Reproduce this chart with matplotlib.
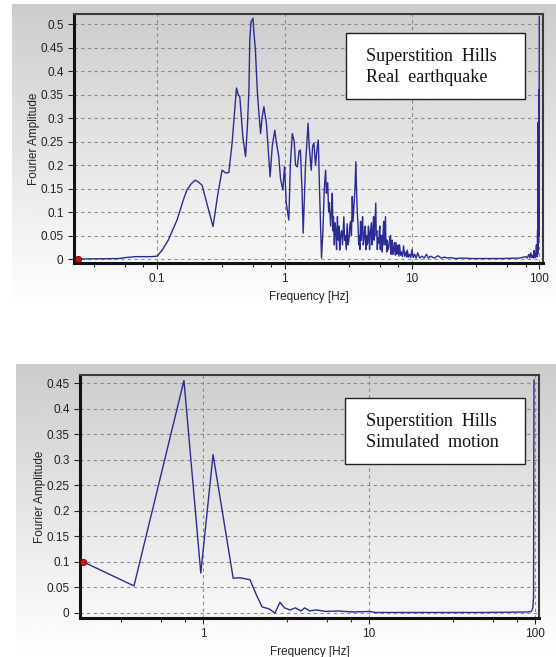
import numpy as np
import matplotlib
matplotlib.use("Agg")
import matplotlib.pyplot as plt
from matplotlib.ticker import FixedLocator, NullFormatter
from matplotlib.patches import Rectangle

# ---------------- data (frequency Hz, Fourier amplitude) ----------------
real_low_band = [(0.024, 0.0), (0.05, 0.001), (0.056, 0.003), (0.062, 0.004), (0.068, 0.005),
                 (0.09, 0.005), (0.1, 0.006), (0.11, 0.02), (0.122, 0.04), (0.143, 0.083),
                 (0.16, 0.125), (0.171, 0.147), (0.185, 0.16), (0.199, 0.168), (0.212, 0.163),
                 (0.225, 0.157), (0.25, 0.11), (0.274, 0.069), (0.30, 0.14), (0.323, 0.189),
                 (0.345, 0.183), (0.365, 0.184), (0.387, 0.246)]
real_peak_band = [(0.41, 0.33), (0.419, 0.364), (0.432, 0.35), (0.445, 0.345), (0.47, 0.26),
                  (0.494, 0.218), (0.51, 0.28), (0.525, 0.36), (0.533, 0.466), (0.545, 0.505),
                  (0.565, 0.512), (0.575, 0.48), (0.59, 0.445), (0.61, 0.36), (0.626, 0.317),
                  (0.648, 0.267), (0.665, 0.30), (0.688, 0.324), (0.70, 0.31), (0.72, 0.289),
                  (0.745, 0.23), (0.77, 0.175), (0.80, 0.24), (0.838, 0.274), (0.86, 0.25),
                  (0.9, 0.218), (0.93, 0.17), (0.97, 0.147), (0.985, 0.175), (1.0, 0.196),
                  (1.03, 0.12), (1.08, 0.083), (1.11, 0.2), (1.15, 0.267), (1.19, 0.25),
                  (1.22, 0.2), (1.26, 0.196), (1.30, 0.23), (1.33, 0.232), (1.37, 0.15),
                  (1.40, 0.055), (1.46, 0.2), (1.53, 0.289), (1.56, 0.24), (1.62, 0.189),
                  (1.66, 0.24), (1.70, 0.247), (1.75, 0.2), (1.80, 0.235), (1.84, 0.253),
                  (1.88, 0.15), (1.95, 0.002)]
real_dense_band = [(2.0, 0.06), (2.05, 0.15), (2.1, 0.189), (2.13, 0.14), (2.15, 0.16), (2.18, 0.162),
                   (2.22, 0.1), (2.25, 0.12), (2.3, 0.07), (2.34, 0.104), (2.37, 0.14), (2.4, 0.06),
                   (2.42, 0.09), (2.46, 0.03), (2.49, 0.077), (2.53, 0.062), (2.56, 0.02), (2.6, 0.09),
                   (2.63, 0.05), (2.65, 0.04), (2.68, 0.07), (2.71, 0.019), (2.75, 0.05), (2.8, 0.06),
                   (2.85, 0.03), (2.92, 0.09), (2.96, 0.04), (3.0, 0.05), (3.05, 0.02), (3.1, 0.075),
                   (3.15, 0.03), (3.2, 0.04), (3.25, 0.07), (3.3, 0.08), (3.35, 0.05), (3.4, 0.133),
                   (3.45, 0.08), (3.5, 0.11), (3.57, 0.15), (3.63, 0.207), (3.67, 0.15), (3.7, 0.12),
                   (3.74, 0.09), (3.78, 0.069), (3.82, 0.03), (3.85, 0.05), (3.9, 0.02), (3.95, 0.08),
                   (4.0, 0.04), (4.05, 0.07), (4.1, 0.09), (4.15, 0.03), (4.2, 0.04), (4.25, 0.06),
                   (4.3, 0.07), (4.35, 0.02), (4.4, 0.05), (4.45, 0.03), (4.5, 0.034), (4.55, 0.07),
                   (4.6, 0.06), (4.65, 0.02), (4.7, 0.05), (4.8, 0.077), (4.85, 0.03), (4.9, 0.04),
                   (4.95, 0.07), (5.0, 0.09), (5.05, 0.04), (5.1, 0.06), (5.2, 0.119), (5.25, 0.05),
                   (5.3, 0.06), (5.35, 0.02), (5.4, 0.045), (5.5, 0.034), (5.55, 0.06), (5.6, 0.07),
                   (5.65, 0.02), (5.7, 0.05), (5.8, 0.05), (5.85, 0.015), (5.9, 0.04), (6.0, 0.08),
                   (6.05, 0.03), (6.1, 0.05), (6.2, 0.09), (6.25, 0.03), (6.3, 0.04), (6.35, 0.015),
                   (6.4, 0.04), (6.5, 0.02), (6.6, 0.026), (6.7, 0.045), (6.8, 0.05), (6.85, 0.01),
                   (6.9, 0.03), (7.0, 0.04), (7.1, 0.01), (7.2, 0.02), (7.3, 0.035), (7.4, 0.008),
                   (7.5, 0.035), (7.6, 0.01), (7.7, 0.019), (7.8, 0.03), (7.9, 0.006), (8.0, 0.03),
                   (8.15, 0.008), (8.3, 0.015), (8.45, 0.005), (8.6, 0.028), (8.8, 0.006), (9.0, 0.015),
                   (9.1, 0.004), (9.2, 0.019), (9.4, 0.004), (9.6, 0.01), (9.8, 0.003), (10, 0.02)]
real_high_band = [(10.25, 0.003), (10.5, 0.01), (10.8, 0.002), (11.1, 0.013), (11.5, 0.002),
                  (12, 0.006), (12.5, 0.002), (13, 0.01), (13.5, 0.002), (14, 0.006), (15, 0.002),
                  (16, 0.007), (17, 0.002), (18, 0.004), (19, 0.002), (20, 0.003), (22, 0.001),
                  (25, 0.002), (30, 0.001), (50, 0.001), (70, 0.002), (75, 0.004), (78, 0.005),
                  (80, 0.002), (83, 0.01), (84, 0.002), (86, 0.013), (87, 0.003), (89, 0.008),
                  (90, 0.002), (91, 0.018), (92, 0.003), (93, 0.012), (94, 0.004), (95, 0.03),
                  (95.5, 0.005), (96, 0.02), (96.5, 0.005), (97, 0.06), (97.3, 0.01), (97.5, 0.29),
                  (97.8, 0.02), (98, 0.12), (98.3, 0.03), (98.5, 0.22), (98.8, 0.04), (99, 0.15),
                  (99.3, 0.05), (99.5, 0.36), (99.7, 0.1), (100, 0.515)]

sim_freq = [0.19, 0.384, 0.768, 0.97, 1.15, 1.52, 1.67, 1.92, 2.1, 2.27, 2.5, 2.71, 2.91, 3.1,
            3.34, 3.6, 3.9, 4.1, 4.4, 4.8, 5.5, 6.5, 8, 10, 11, 20, 50, 90, 95, 97, 98, 98.6]
sim_amp = [0.1, 0.053, 0.455, 0.078, 0.31, 0.068, 0.069, 0.065, 0.035, 0.012, 0.008, 0.0, 0.021, 0.01,
           0.006, 0.01, 0.004, 0.01, 0.004, 0.006, 0.003, 0.004, 0.002, 0.003, 0.001, 0.001, 0.001, 0.002,
           0.003, 0.01, 0.03, 0.456]

top_yticks = [0, 0.05, 0.1, 0.15, 0.2, 0.25, 0.3, 0.35, 0.4, 0.45, 0.5]
top_ylabels = ["0", "0.05", "0.1", "0.15", "0.2", "0.25", "0.3", "0.35", "0.4", "0.45", "0.5"]
top_xticks = [0.1, 1, 10, 100]
top_xlabels = ["0.1", "1", "10", "100"]
bot_yticks = [0, 0.05, 0.1, 0.15, 0.2, 0.25, 0.3, 0.35, 0.4, 0.45]
bot_ylabels = ["0", "0.05", "0.1", "0.15", "0.2", "0.25", "0.3", "0.35", "0.4", "0.45"]
bot_xticks = [1, 10, 100]
bot_xlabels = ["1", "10", "100"]
top_text = ["Superstition  Hills", "Real  earthquake"]
bot_text = ["Superstition  Hills", "Simulated  motion"]

real_pts = real_low_band + real_peak_band + real_dense_band + real_high_band
real_freq = [p[0] for p in real_pts]
real_amp = [p[1] for p in real_pts]

# ---------------- figure ----------------
W, H = 556, 657
fig = plt.figure(figsize=(W / 100, H / 100), dpi=100)
fig.patch.set_facecolor("white")
sans = "Liberation Sans"
serif = "Liberation Serif"
line_col = "#2b2b95"


def panel(x0, y0, x1, y1):
    ax = fig.add_axes([x0 / W, 1 - y1 / H, (x1 - x0) / W, (y1 - y0) / H], zorder=0)
    n = 200
    v = np.linspace(0.80, 1.0, n)[:, None] * np.ones((1, 10))
    ax.imshow(v, cmap="gray", vmin=0, vmax=1, aspect="auto", extent=[0, 1, 0, 1], origin="upper")
    ax.set_axis_off()


panel(12, 4, 556, 310)
panel(16, 364, 556, 657)


def setup(rect, xlim, ylim, xticks, xlabels, yticks, ylabels, minors):
    ax = fig.add_axes([rect[0] / W, 1 - rect[3] / H, (rect[2] - rect[0]) / W, (rect[3] - rect[1]) / H], zorder=2)
    ax.set_facecolor("none")
    ax.set_xscale("log")
    ax.set_xlim(*xlim)
    ax.set_ylim(*ylim)
    ax.xaxis.set_major_locator(FixedLocator(xticks))
    ax.set_xticklabels(xlabels)
    ax.xaxis.set_minor_locator(FixedLocator(minors))
    ax.xaxis.set_minor_formatter(NullFormatter())
    ax.set_yticks(yticks)
    ax.set_yticklabels(ylabels)
    ax.grid(True, which="major", color="#8a8a8a", linestyle=(0, (3, 3)), linewidth=0.8)
    for s in ["left", "bottom"]:
        ax.spines[s].set_linewidth(2.2)
        ax.spines[s].set_color("#111111")
    for s in ["top", "right"]:
        ax.spines[s].set_linewidth(1.5)
        ax.spines[s].set_color("#3a3a3a")
    ax.tick_params(axis="both", which="major", labelsize=8.5, colors="#222222", length=4, width=0.8)
    ax.tick_params(axis="x", which="minor", length=3, width=0.8, colors="#222222")
    for lab in ax.get_xticklabels() + ax.get_yticklabels():
        lab.set_fontfamily(sans)
    ax.set_xlabel("Frequency [Hz]", fontsize=8.5, fontfamily=sans, color="#222222", labelpad=4)
    ax.set_ylabel("Fourier Amplitude", fontsize=8.5, fontfamily=sans, color="#222222", labelpad=0)
    return ax


def textbox(ax, rect, box_px, text_x, baselines, lines):
    # box_px: (x0, y0, x1, y1) in figure pixels; converted to axes fractions
    ax_x0, ax_y0, ax_x1, ax_y1 = rect
    fx = lambda x: (x - ax_x0) / (ax_x1 - ax_x0)
    fy = lambda y: (ax_y1 - y) / (ax_y1 - ax_y0)
    bx0, by0, bx1, by1 = box_px
    ax.add_patch(Rectangle((fx(bx0), fy(by1)), fx(bx1) - fx(bx0), fy(by0) - fy(by1),
                           transform=ax.transAxes, facecolor="white", edgecolor="#222222",
                           linewidth=1.0, zorder=6))
    for b, s in zip(baselines, lines):
        ax.text(fx(text_x), fy(b), s, transform=ax.transAxes, fontsize=13, fontfamily=serif,
                va="baseline", ha="left", zorder=7, color="#111111")


minor_top = [m * 10.0 ** e for e in (-2, -1, 0, 1) for m in (3.2, 5.6, 7.8)]
rect1 = (74, 14, 543, 263)
ax1 = setup(rect1, (0.0222, 107), (-0.0085, 0.5213),
            top_xticks, top_xlabels, top_yticks, top_ylabels, minor_top)
ax1.plot(real_freq, real_amp, color=line_col, lw=1.0, zorder=3)
ax1.plot([real_freq[0]], [real_amp[0]], "o", color="#d01010", markersize=4.5,
         markeredgecolor="#700000", markeredgewidth=0.6, zorder=4, clip_on=False)
textbox(ax1, rect1, (346, 33, 525, 99), 366, (61, 82), top_text)

minor_bot = [m * 10.0 ** e for e in (-1, 0, 1) for m in (3.2, 5.6, 7.8)]
rect2 = (80, 375, 539, 618)
ax2 = setup(rect2, (0.1816, 105.7), (-0.0098, 0.4657),
            bot_xticks, bot_xlabels, bot_yticks, bot_ylabels, minor_bot)
ax2.plot(sim_freq, sim_amp, color=line_col, lw=1.0, zorder=3)
ax2.plot([sim_freq[0]], [sim_amp[0]], "o", color="#d01010", markersize=4.5,
         markeredgecolor="#700000", markeredgewidth=0.6, zorder=4, clip_on=False)
textbox(ax2, rect2, (345, 398, 525, 464), 366, (426, 447), bot_text)

fig.savefig("out.png", dpi=100)
